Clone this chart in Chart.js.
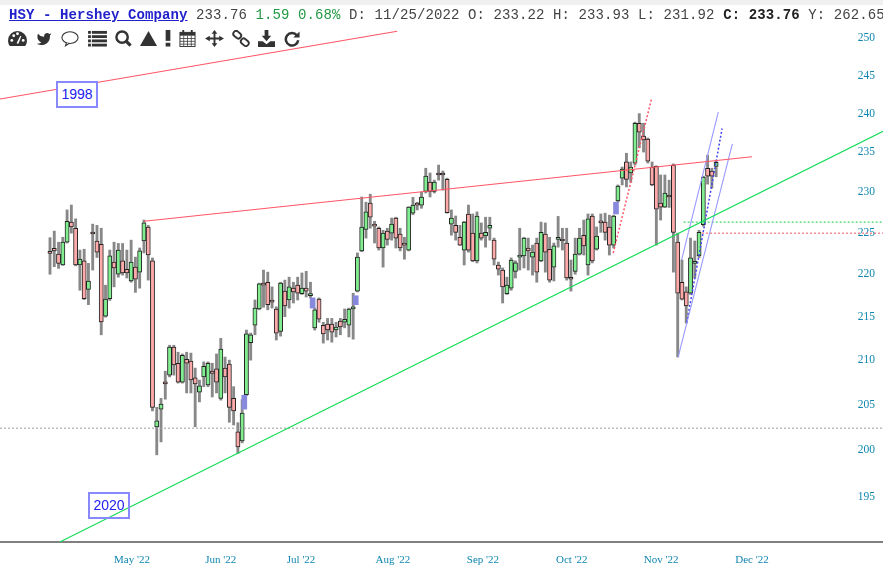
<!DOCTYPE html>
<html>
<head>
<meta charset="utf-8">
<title>HSY - Hershey Company</title>
<script src="https://cdn.jsdelivr.net/npm/chart.js@4"></script>
<style>
  body { margin: 0; background: #fff; overflow: hidden; }
  #wrap { position: relative; width: 883px; height: 577px; overflow: hidden; }
  #topband { position: absolute; left: 0; top: 0; width: 883px; height: 5px; background: #f0f0f0; }
  #header { position: absolute; left: 9px; top: 7px; white-space: nowrap; font: 14px "Liberation Mono", monospace; letter-spacing: 0.1px; color: #444; }
  #header a { color: #2222cc; font-weight: bold; text-decoration: underline; }
  #header .up { color: #229944; }
  #header b { color: #222; }
  .icon { position: absolute; top: 30px; height: 17px; fill: #333; stroke: none; }
  .year { position: absolute; width: 38px; height: 23px; border: 2px solid #8888ff; text-align: center; font: 14px/22px "Liberation Sans", Arial, sans-serif; color: #2222ee; }
  canvas { position: absolute; left: 0; top: 0; }
</style>
</head>
<body>
<div id="wrap">
  <canvas id="myChart" width="883" height="577"></canvas>
  <div id="topband"></div>
  <div id="header"><a href="#">HSY - Hershey Company</a> 233.76 <span class="up">1.59 0.68%</span> D: 11/25/2022 O: 233.22 H: 233.93 L: 231.92 <b>C: 233.76</b> Y: 262.65</div>

  <svg class="icon" style="left:8px;width:19px" viewBox="0 0 20 18"><path d="M10 1a10 10 0 0 0-10 10c0 3 1 5 2 6h16c1-1 2-3 2-6a10 10 0 0 0-10-9.900z"/><circle cx="4" cy="11" r="1.500" fill="#fff"/><circle cx="6" cy="6" r="1.500" fill="#fff"/><circle cx="10" cy="4" r="1.500" fill="#fff"/><circle cx="16" cy="11" r="1.500" fill="#fff"/><path d="M9 14l4-8 1 .5-3 8z" fill="#fff"/></svg>
  <svg class="icon" style="left:36px;width:16px" viewBox="0 0 24 22"><path d="M23 3a10.900 10.900 0 0 1-3 1.400 4.480 4.480 0 0 0-7.860 3v1A10.660 10.660 0 0 1 3 4s-4 9 5 13a11.640 11.640 0 0 1-7 2c9 5 20 0 20-11.500a4.500 4.500 0 0 0-.08-.83A7.720 7.720 0 0 0 23 3z"/></svg>
  <svg class="icon" style="left:61px;width:18px" viewBox="0 0 20 18"><ellipse cx="10" cy="8" rx="9" ry="6.500" fill="#fff" stroke="#333" stroke-width="1.200"/><path d="M6 14l-1 3 4-2.500" fill="#fff" stroke="#333" stroke-width="1.200"/></svg>
  <svg class="icon" style="left:88px;width:19px" viewBox="0 0 20 18"><rect x="0" y="1" width="3" height="3"/><rect x="4" y="1" width="16" height="3"/><rect x="0" y="5.500" width="3" height="3"/><rect x="4" y="5.500" width="16" height="3"/><rect x="0" y="10" width="3" height="3"/><rect x="4" y="10" width="16" height="3"/><rect x="0" y="14.500" width="3" height="3"/><rect x="4" y="14.500" width="16" height="3"/></svg>
  <svg class="icon" style="left:115px;width:17px" viewBox="0 0 18 18"><circle cx="7.500" cy="7.500" r="6" fill="none" stroke="#333" stroke-width="2.600"/><path d="M11.500 11.500l5 5" stroke="#333" stroke-width="3.400"/></svg>
  <svg class="icon" style="left:140px;width:17px" viewBox="0 0 18 18"><path d="M9 1l9 16H0z"/></svg>
  <svg class="icon" style="left:165px;width:6px" viewBox="0 0 6 18"><rect x="0.500" y="0" width="5" height="11.500"/><rect x="0.500" y="13.500" width="5" height="4"/></svg>
  <svg class="icon" style="left:179px;width:17px" viewBox="0 0 18 18"><rect x="1" y="2.500" width="16" height="15" fill="#fff" stroke="#333"/><rect x="1" y="2.500" width="16" height="3.500"/><rect x="3.500" y="0" width="2" height="4"/><rect x="12.500" y="0" width="2" height="4"/><path d="M1 9h16M1 12h16M1 15h16M5 6v11M9 6v11M13 6v11" stroke="#333" stroke-width="0.800"/></svg>
  <svg class="icon" style="left:205px;width:19px" viewBox="0 0 20 18"><path d="M9 4h2v4h4V6l5 3-5 3v-2h-4v4h2l-3 4-3-4h2v-4H5v2L0 9l5-3v2h4V4H7l3-4 3 4z"/></svg>
  <svg class="icon" style="left:232px;width:18px" viewBox="0 0 18 18"><rect x="0.500" y="2" width="9" height="6" rx="3" transform="rotate(40 5 5)" fill="none" stroke="#333" stroke-width="2"/><rect x="8.500" y="10" width="9" height="6" rx="3" transform="rotate(40 13 13)" fill="none" stroke="#333" stroke-width="2"/></svg>
  <svg class="icon" style="left:258px;width:17px" viewBox="0 0 18 18"><path d="M7 0h4v6h3l-5 6-5-6h3z"/><path d="M0 12h5l4 3 4-3h5v6H0z"/></svg>
  <svg class="icon" style="left:284px;width:16px" viewBox="0 0 18 18"><path d="M14.500 5.500A7 7 0 1 0 16 11" fill="none" stroke="#333" stroke-width="2.800"/><path d="M17.500 1v7h-7z"/></svg>

  <div class="year" style="left:56px;top:81px;background:#fff">1998</div>
  <div class="year" style="left:88px;top:492px">2020</div>
</div>

<script>
// daily candles, oldest first (Apr - Nov 2022)
const opens = [222.6,223.1,222.4,221.1,223.85,226.3,225.55,221.1,221.6,218.2,
  225.05,224,223.6,215.05,217.1,221.45,220,221.6,220.6,219.2,
  220.85,220.25,224,225.7,221.6,202.55,204.5,207.55,208.3,211.5,
  209.65,207.5,210.1,209.9,208,206.4,208.1,207.2,208.75,209,
  205.7,209.1,209.55,205.7,202,201,206.1,212,214,215.9,
  218.85,219.05,216.95,215.9,213.3,218,216.95,218.35,218.7,217.7,
  218.35,217.45,213.7,217.05,214,214.15,214.15,213.45,214.5,214.35,
  214,215.9,218,222.8,225.4,228.65,225.95,225.55,223.15,225.2,
  224.95,226.8,224.85,223.6,222.9,227.4,228.5,228.4,230.1,231.25,
  230.1,232.25,232.4,231.6,226.05,225.9,224.45,222.9,227.3,224.95,
  221.6,224.95,224.6,225.55,224.1,221.1,220.5,217.7,218.35,220.35,
  222.05,222.2,223.15,222.05,223.75,221.6,224.85,223,220.85,224.2,
  224.2,223.75,219.55,220.35,222.4,224.7,221.1,227.05,223,226.3,
  226.3,225.7,223.5,228.9,231.75,233.8,232.4,233.65,238.75,237.1,
  236.7,233.15,233.25,228.65,228.15,229.5,233.4,223.85,219.05,217.9,
  217.75,221.3,222.2,226,233,232.65,233.22];
const highs = [224.4,225.2,223.85,224.45,227.8,228.4,226.7,222.9,223,221.3,
  226.05,225.9,225.55,218.7,222.9,223.85,223.7,223.7,222.9,224.1,
  222.05,223.15,226.55,225.9,221.95,204.7,205.7,208.75,211.7,211.7,
  210.9,210.7,210.9,210.8,209.1,207.75,209.8,209.8,209.65,210.7,
  212.5,210.35,210,207,203,205.55,213.45,213.1,216.95,218.95,
  220.5,220.25,218.5,216.15,219.05,219.3,219.65,219.05,219.65,220.15,
  220.35,219.05,216,217.2,214.35,214.8,214.8,214.35,214.8,215.9,
  216,217.75,222.55,229.4,228.75,229.75,226.4,225.7,225.3,225.55,
  226.8,226.9,225.55,224.45,228.2,229.35,228.75,230,233,232.4,
  231.5,233.4,232.65,231.75,227.8,227.05,225.9,226.4,228.4,227.3,
  227.55,226.2,226.9,226.9,224.35,221.45,220.75,219.65,221.95,221.6,
  225.55,224.45,224.35,223.5,224.35,226.3,226.2,224.45,223.75,227,
  225.55,225.55,221.7,224.35,225.55,226.55,227.3,227.3,225.7,227.3,
  227.4,227.15,227.15,230.9,233.15,234.9,233.8,238.9,240,238.75,
  236.85,233.8,233.3,232.15,232.15,231.5,233.55,224.95,221.7,218.5,
  224.35,224,225.3,232,234.65,233,233.93];
const lows = [220,220.9,220.7,221.05,223.75,224.95,221,218.1,217,216.4,
  220.5,222,212.9,214.95,216.9,218.5,219.65,219.9,219.55,219.05,
  217.85,218.35,222.55,219.3,204.3,199.5,200.9,205.6,208.1,208.3,
  207.4,207.4,206.3,206.3,202.55,205.3,207,207,205.85,206.3,
  205.5,206.3,203.05,202.75,199.65,200.8,206,210,212.9,215.8,
  216.1,215.8,216,212.3,212.75,215,216,216.6,216.95,217.6,
  217.3,217.2,213.45,214.35,211.95,212.3,212.05,212.65,212.9,213.7,
  212.65,212.4,217.9,222.7,224.35,225.55,223.75,222.9,220.85,223.5,
  224.1,223.15,222.8,221.8,222.8,227.2,227.8,228,229.9,229.4,
  229.9,231.5,230.25,227.4,224.7,224.1,223.45,221.1,222.65,221.5,
  221.35,224.1,223.25,224.1,221.1,219.9,216.6,217.6,218.1,219.55,
  220.5,220.75,220.5,219.9,219.05,221.5,220.25,219.05,219.2,223.25,
  222.9,219.3,218,220,222.3,222.3,219.9,221.35,222.9,225.05,
  224.1,222.3,223.15,228.75,230.9,230.65,231.25,233.4,235.6,235.05,
  233.65,230.8,223.5,226.55,228.1,228.1,220.25,210.35,216.95,214.25,
  217.6,219.55,222,225.8,231,230.5,231.92];
const closes = [222.5,222.8,221.3,223.85,226.4,225.7,221.1,221.8,217.1,219.2,
  224.85,222.65,214.4,217.05,222.2,220.75,222.9,220.15,220.15,221.45,
  219.4,222.8,226.2,222.3,204.7,203.2,205.05,207.3,211.5,209.45,
  207.5,210.55,209.65,207.75,207.3,207.1,209.3,209.65,208.5,207.5,
  211.25,208.1,204.7,204.3,200.35,204.05,213,212.9,216,218.85,
  218.7,216.4,216.7,213.1,218.95,216.25,218.5,217.9,217.75,218.35,
  218,217.7,215.8,214.7,213,213.45,213.2,213.8,213.8,214.7,
  215.9,216.15,222.05,225.7,227.55,226.9,225.8,223.15,224.95,224.2,
  226.05,224.35,223.15,223.5,228.15,228.4,228.4,229.4,232,230.1,
  231.25,232.15,232.15,227.45,226.8,225.05,223.5,226.3,222.9,221.6,
  227.05,224.35,225.05,225.9,221.8,220.6,218.5,218.7,221.7,221.35,
  222.3,224.35,222.8,222.65,220.25,225.05,222.65,219.3,223.4,224.45,
  224,219.55,219.4,222.4,224.35,223.4,226.7,221.6,224.6,226.2,
  225.05,223.5,227.05,230.75,232.9,231.6,233.15,238.75,237.6,236.6,
  233.9,230.9,227.9,228.15,229.9,229.4,225.05,217.75,217.05,216.25,
  221.95,221.45,225.05,231.9,232,232,233.76];

// price gaps, blue blocks between candles
const gapSlots = [45.5, 61.5, 71.6, 132.55];
const gapTops = [206.05, 217.2, 217.45, 228.75];
const gapBottoms = [204.5, 216, 216.4, 227.3];

const priceTicks = [195,200,205,210,215,220,225,230,235,240,245,250];
const monthLabels = ["May '22","Jun '22","Jul '22","Aug '22","Sep '22","Oct '22","Nov '22","Dec '22"];
const monthSlots = [19.2,40,58.8,80.3,101.4,122.2,143.1,164.4];

// trend lines as [slot, price] ends
const redLong = [[-11.7,241.9],[81.3,250.95]];
const redWedge = [[22,226.4],[164.4,234.45]];
const greenLong = [[2.3,190.3],[195.1,237.7]];
const redDotted = [[131.9,222.55],[140.9,242]];
const blueUpper = [[147.9,221.7],[156.5,240.2]];
const blueLower = [[147.1,210.33],[159.8,236.1]];
const blueDotted = [[149.1,214.3],[157.4,238.07]];
const greenLevel = [[148.4,226.3],[195.1,226.3]];
const redLevel = [[152.7,224.95],[195.1,224.95]];
const greyLevel = [[-11.7,202.4],[195.1,202.4]];

function line(ends, color, dash, width) {
  return {
    type: 'line',
    data: ends.map(function (e) { return { x: e[0], y: e[1] }; }),
    borderColor: color,
    borderWidth: width || 1.1,
    borderDash: dash || [],
    pointRadius: 0,
    order: 1
  };
}

const wicks = highs.map(function (h, i) { return { x: i, y: [lows[i], h] }; });
const bodies = opens.map(function (o, i) { return { x: i, y: [o, closes[i]] }; });
const gaps = gapSlots.map(function (s, i) { return { x: s, y: [gapBottoms[i], gapTops[i]] }; });

var ctx = document.getElementById('myChart').getContext('2d');
new Chart(ctx, {
  type: 'bar',
  data: {
    datasets: [
      { data: wicks, backgroundColor: '#888888', barThickness: 2.2, grouped: false, order: 5 },
      {
        data: bodies,
        backgroundColor: opens.map(function (o, i) { return closes[i] >= o ? '#80ee90' : '#ffaaaa'; }),
        borderColor: '#222',
        borderWidth: 1,
        borderSkipped: false,
        minBarLength: 2,
        barThickness: 4.2,
        grouped: false,
        order: 4
      },
      { data: gaps, backgroundColor: '#8888dd', barThickness: 5, grouped: false, order: 3 },
      line(redLong, '#ff5566'),
      line(redWedge, '#ff5566'),
      line(greenLong, '#11dd55'),
      line(redDotted, '#ff5566', [2, 2], 1.5),
      line(blueUpper, '#9999ff'),
      line(blueLower, '#9999ff'),
      line(blueDotted, '#4444ee', [2, 2], 1.5),
      line(greenLevel, '#11cc44', [2, 2], 1),
      line(redLevel, '#ee5566', [2, 2], 1),
      line(greyLevel, '#999999', [2, 2], 1)
    ]
  },
  options: {
    responsive: false,
    animation: false,
    layout: { autoPadding: false, padding: { top: 6, left: 0, right: 0, bottom: 0 } },
    plugins: { legend: { display: false }, tooltip: { enabled: false } },
    scales: {
      x: {
        type: 'linear',
        offset: false,
        min: -11.71,
        max: 195.08,
        afterBuildTicks: function (axis) {
          axis.ticks = monthSlots.map(function (v) { return { value: v }; });
        },
        afterFit: function (axis) { axis.height = 35; },
        grid: { drawOnChartArea: false, drawTicks: false, tickLength: 0 },
        border: { display: true, color: '#808080', width: 2 },
        ticks: {
          autoSkip: false,
          maxRotation: 0,
          padding: 12,
          color: '#0f86b0',
          font: { family: '"Liberation Serif", serif', size: 11 },
          callback: function (v) { return monthLabels[monthSlots.indexOf(v)]; }
        }
      },
      y: {
        type: 'logarithmic',
        position: 'right',
        min: 190.3,
        max: 254.4,
        afterBuildTicks: function (axis) {
          axis.ticks = priceTicks.map(function (v) { return { value: v }; });
        },
        afterFit: function (axis) { axis.width = 0; },
        grid: { display: false },
        border: { display: false },
        ticks: {
          mirror: true,
          padding: -8,
          color: '#0f86b0',
          font: { family: '"Liberation Serif", serif', size: 11.5 },
          callback: function (v) { return String(v); }
        }
      }
    }
  }
});
</script>
</body>
</html>
